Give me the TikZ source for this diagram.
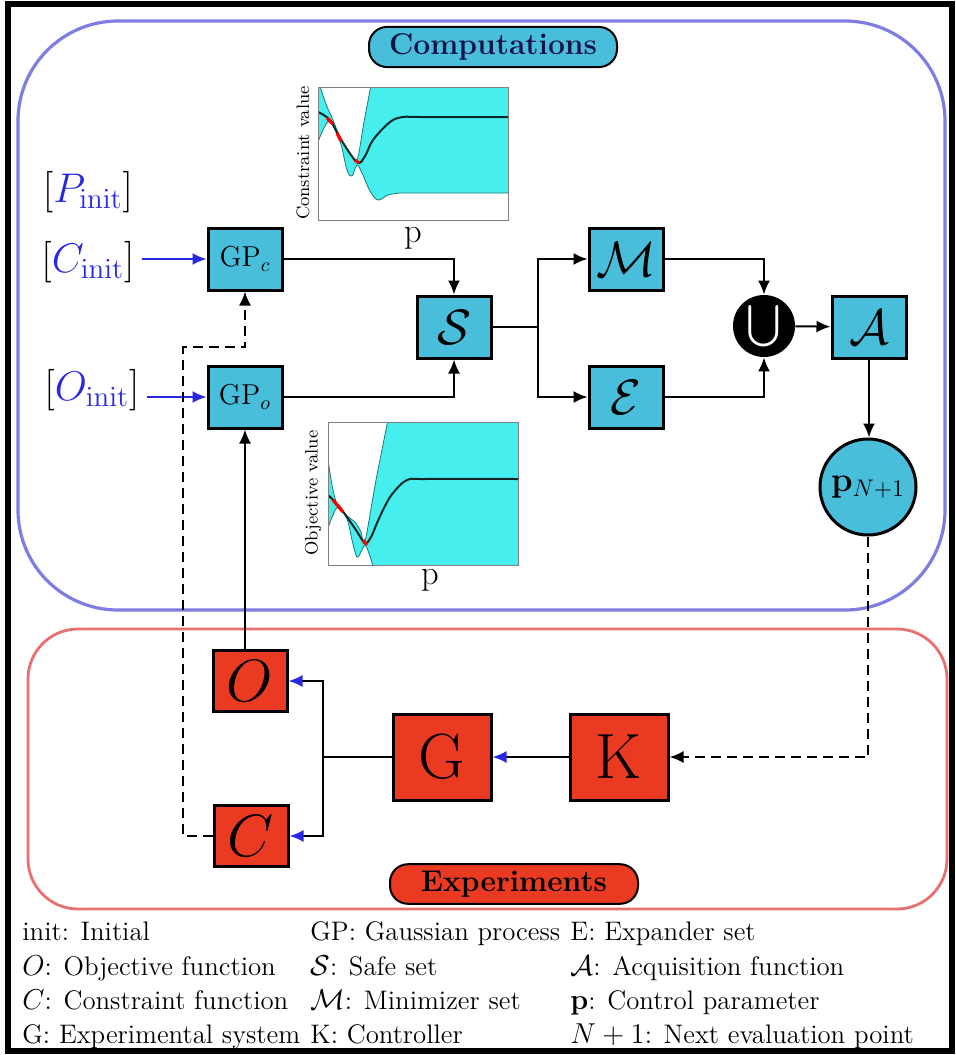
\documentclass[tikz,border=0pt]{standalone}
\usepackage{amsmath}
\usetikzlibrary{arrows.meta}
\definecolor{compcyan}{RGB}{72,190,218}
\definecolor{expred}{RGB}{234,58,34}
\definecolor{compframe}{RGB}{125,125,228}
\definecolor{expframe}{RGB}{232,112,112}
\definecolor{bandcyan}{RGB}{70,238,238}
\definecolor{bandedge}{RGB}{30,120,120}
\definecolor{meanline}{RGB}{10,40,40}
\definecolor{initblue}{RGB}{40,40,225}
\definecolor{navy}{RGB}{20,20,70}

\begin{document}
\begin{tikzpicture}[x=0.5pt, y=-0.5pt,
	comp/.style={draw, line width=1.5pt, fill=compcyan, minimum width=37pt, minimum height=31pt, inner sep=0pt},
	expt/.style={draw, line width=1.5pt, fill=expred, inner sep=0pt},
	flow/.style={line width=1pt, -{Latex[length=7pt,width=6pt]}},
	bluetip/.style={line width=1pt, -{Latex[length=7pt,width=6pt,color=initblue]}},
	feed/.style={flow, dash pattern=on 5pt off 3pt},
	tag/.style={draw, line width=1pt, rounded corners=9pt, minimum width=124pt, minimum height=19pt, font=\fontsize{15}{17}\selectfont\bfseries},
	init/.style={font=\fontsize{20.74}{24}\selectfont},
	key/.style={anchor=base west, inner sep=0pt, font=\fontsize{13.4}{15}\selectfont}]
	\useasboundingbox (0,0) rectangle (956,1055);
	\draw[line width=2.6pt] (8,4) rectangle (952,1051);
	\draw[compframe, line width=1.6pt, rounded corners=50pt] (18,21) rectangle (945,610);
	\draw[expframe, line width=1.4pt, rounded corners=25pt] (28,629) rectangle (947,909);
	\node[tag, fill=compcyan, text=navy] (comptag) at (493,47) {Computations};
	\node[tag, fill=expred] (exptag) at (514,884) {Experiments};

	% constraint plot
	\begin{scope}
		\clip (318,87) rectangle (508,220);
		\filldraw[fill=bandcyan, draw=bandedge, line width=0.4pt] plot[smooth, tension=0.6] coordinates {(318,80) (326,104) (333,120) (340,137) (350,153) (357,160) (364,122) (372,80)} -- (512,80) -- (512,193) -- plot[smooth, tension=0.6] coordinates {(400,193) (388,195) (378,200) (370,191) (362,173) (357,165) (352,176) (347,170) (340,141) (330,122) (324,128) (318,142)} -- cycle;
		\draw[meanline, line width=1pt] plot[smooth, tension=0.6] coordinates {(318,112) (330,120) (340,138) (357,162) (365,156) (373,140) (390,122) (403,117) (420,117) (508,117)};
		\draw[red, line width=1.6pt] (327,118) -- (333,124) (337,133) -- (341,141) (355,160) -- (359,163);
	\end{scope}
	\draw[gray, line width=0.4pt] (318,87) rectangle (508,220);
	\node[rotate=90, font=\fontsize{9}{10}\selectfont] (cvlab) at (303,153) {Constraint value};
	\node[font=\fontsize{17.28}{18}\selectfont] (cplab) at (413,238) {$\mathrm{p}$};

	% objective plot
	\begin{scope}
		\clip (328,422) rectangle (518,565);
		\filldraw[fill=bandcyan, draw=bandedge, line width=0.4pt] plot[smooth, tension=0.6] coordinates {(328,460) (333,490) (338,506) (347,516) (355,522) (361,532) (365,541) (376,480) (389,415)} -- (522,415) -- (522,580) -- (380,580) -- plot[smooth, tension=0.6] coordinates {(373,566) (366,546) (362,550) (357,557) (352,540) (347,519) (338,508) (333,515) (328,528)} -- cycle;
		\draw[meanline, line width=1pt] plot[smooth, tension=0.6] coordinates {(328,495) (338,505) (347,517) (356,530) (365,543) (371,537) (377,523) (385,506) (393,493) (407,480) (425,479) (518,479)};
		\draw[red, line width=1.6pt] (333,500) -- (343,512) (363,540) -- (367,545);
	\end{scope}
	\draw[gray, line width=0.4pt] (328,422) rectangle (518,565);
	\node[rotate=90, font=\fontsize{9}{10}\selectfont] (ovlab) at (313,493) {Objective value};
	\node[font=\fontsize{17.28}{18}\selectfont] (oplab) at (430,580) {$\mathrm{p}$};

	% computations
	\node[init] (pinit) at (88,192) {$[\textcolor{initblue}{P_{\mathrm{init}}}]$};
	\node[init] (cinit) at (88,262) {$[\textcolor{initblue}{C_{\mathrm{init}}}]$};
	\node[init] (oinit) at (92,390) {$[\textcolor{initblue}{O_{\mathrm{init}}}]$};
	\node[comp, font=\fontsize{14.4}{16}\selectfont] (gpc) at (245,259) {$\mathrm{GP}_c$};
	\node[comp, font=\fontsize{14.4}{16}\selectfont] (gpo) at (245,397) {$\mathrm{GP}_o$};
	\node[comp, font=\fontsize{24.88}{28}\selectfont] (S) at (454,327) {$\mathcal{S}$};
	\node[comp, font=\fontsize{24.88}{28}\selectfont] (M) at (626,259) {$\mathcal{M}$};
	\node[comp, font=\fontsize{24.88}{28}\selectfont] (E) at (626,397) {$\mathcal{E}$};
	\node[circle, fill=black, minimum size=31pt, inner sep=0pt, text=white, font=\fontsize{20.74}{22}\selectfont] (U) at (764,326) {$\bigcup$};
	\node[comp, font=\fontsize{24.88}{28}\selectfont] (A) at (869,327) {$\mathcal{A}$};
	\node[circle, draw, line width=1.5pt, fill=compcyan, minimum size=48pt, inner sep=0pt, font=\fontsize{17.28}{18}\selectfont] (pn) at (868,487) {$\mathbf{p}_{N+1}$};

	% experiments
	\node[expt, minimum width=37pt, minimum height=30.5pt, font=\fontsize{24.88}{28}\selectfont] (O) at (250,681) {\scalebox{1.2}{$O$}};
	\node[expt, minimum width=37pt, minimum height=30.5pt, font=\fontsize{24.88}{28}\selectfont] (C) at (251,836) {\scalebox{1.2}{$C$}};
	\node[expt, minimum width=49pt, minimum height=43pt, font=\fontsize{32}{34}\selectfont] (G) at (442,757) {G};
	\node[expt, minimum width=49pt, minimum height=43pt, font=\fontsize{32}{34}\selectfont] (K) at (619,757) {K};

	\coordinate (sfork) at (538,327);
	\coordinate (gfork) at (323,757);
	\coordinate (cturn) at (183,347);

	\draw[flow, initblue] (cinit.east |- gpc) -- (gpc);
	\draw[flow, initblue] (oinit.east |- gpo) -- (gpo);
	\draw[flow] (gpc.east) -| (S.north);
	\draw[flow] (gpo.east) -| (S.south);
	\draw[line width=1pt] (S.east) -- (sfork);
	\draw[flow] (sfork) |- (M.west);
	\draw[flow] (sfork) |- (E.west);
	\draw[flow] (M.east) -| (U.north);
	\draw[flow] (E.east) -| (U.south);
	\draw[flow] (U) -- (A);
	\draw[flow] (A.south) -- (A.south |- pn.north);
	\draw[feed] (pn.south) |- (K.east);
	\draw[bluetip] (K) -- (G);
	\draw[line width=1pt] (G.west) -- (gfork);
	\draw[bluetip] (gfork) |- (O.east);
	\draw[bluetip] (gfork) |- (C.east);
	\draw[flow] (O.north -| gpo.south) -- (gpo.south);
	\draw[feed] (C.west) -| (cturn) -| (gpc.south);

	% legend
	\node[key] (k1) at (22,940) {init: Initial};
	\node[key] (k2) at (22,975) {$O$: Objective function};
	\node[key] (k3) at (22,1009) {$C$: Constraint function};
	\node[key] (k4) at (22,1043) {G: Experimental system};
	\node[key] (k5) at (310,940) {GP: Gaussian process};
	\node[key] (k6) at (310,975) {$\mathcal{S}$: Safe set};
	\node[key] (k7) at (310,1009) {$\mathcal{M}$: Minimizer set};
	\node[key] (k8) at (310,1043) {K: Controller};
	\node[key] (k9) at (570,940) {E: Expander set};
	\node[key] (k10) at (570,975) {$\mathcal{A}$: Acquisition function};
	\node[key] (k11) at (570,1009) {$\mathbf{p}$: Control parameter};
	\node[key] (k12) at (570,1043) {$N+1$: Next evaluation point};
\end{tikzpicture}
\end{document}
